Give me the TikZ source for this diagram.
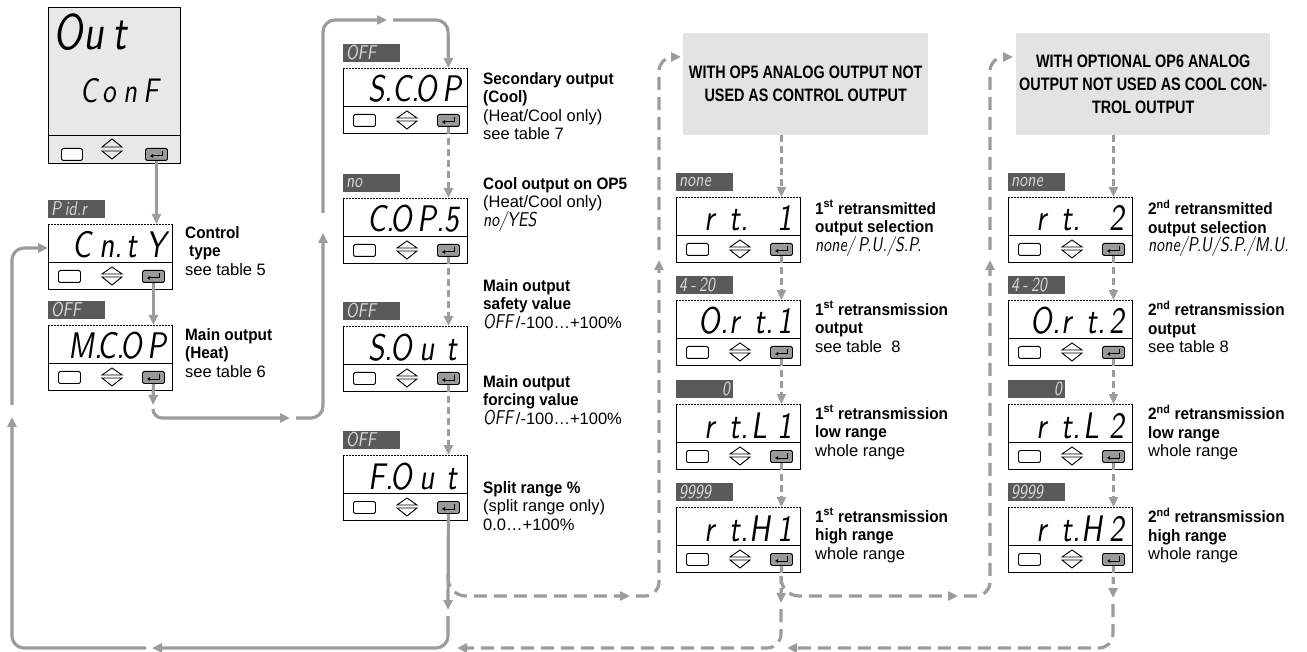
\documentclass[tikz,border=0pt]{standalone}
\usepackage{fontspec}
\setmainfont{Liberation Sans}[BoldFeatures={FakeStretch=0.93}]
\newfontfamily\hdrfont{Liberation Sans}[FakeStretch=0.8]
\newfontfamily\segfont{lmsans10-regular.otf}[FakeStretch=0.8, FakeSlant=0.15]
\usetikzlibrary{arrows.meta,calc}

\definecolor{linegray}{HTML}{9C9C9C}
\definecolor{badgegray}{HTML}{5A5A5A}
\definecolor{hdrgray}{HTML}{E3E3E3}
\definecolor{lcdgray}{HTML}{E8E8E8}
\definecolor{keygray}{HTML}{9A9A9A}

\newlength{\segw}
\setlength{\segw}{25pt}
\newcommand{\segdig}[1]{\makebox[\segw][c]{#1}}
\newcommand{\segdot}{\rlap{.}}
\newcommand{\segl}[1]{{\fontsize{20}{20}\segfont #1}}

\tikzset{
  flow/.style={draw=linegray, line width=3.2pt, rounded corners=12pt},
  dlink/.style={draw=linegray, line width=3.2pt, dash pattern=on 7pt off 4pt},
  dloop/.style={draw=linegray, line width=3.2pt, dash pattern=on 13pt off 7pt, rounded corners=14pt},
  panelbox/.style={anchor=north west, minimum width=124pt, minimum height=65pt, inner sep=0pt, fill=white},
  panelline/.style={draw=black, line width=0.9pt},
  keybox/.style={draw=black, line width=0.9pt, rounded corners=1.5pt, minimum width=22pt, minimum height=12pt, inner sep=0pt, fill=white},
  enterkey/.style={keybox, fill=keygray},
  badge/.style={anchor=south west, fill=badgegray, minimum width=57pt, minimum height=18pt, text width=51pt, inner xsep=3pt, inner ysep=0pt, text=white!85!black, font=\fontsize{20}{20}\segfont},
  segbig/.style={inner sep=0pt, font=\fontsize{37}{37}\segfont},
  lbl/.style={anchor=north west, align=left, inner sep=0pt, font=\fontsize{16.5}{18.5}\selectfont},
  hdr/.style={anchor=north west, fill=hdrgray, minimum height=102pt, align=center, inner sep=0pt, font=\hdrfont\bfseries\fontsize{18}{23}\selectfont}
}

\newcommand{\panel}[5]{%
  \node[panelbox] (#1) at (#2,#3) {};
  \draw[panelline] (#1.north west) -- (#1.south west) -- (#1.south east) -- (#1.north east);
  \draw[line width=0.8pt, dash pattern=on 1.5pt off 1.5pt] (#1.north west) -- (#1.north east);
  \draw[panelline] ($(#1.north west)+(0,38)$) -- ($(#1.north east)+(0,38)$);
  \node[segbig, anchor=base east] (#1-txt) at ($(#1.north east)+(-3,34)$) {#4};
  \node[keybox, anchor=north west] (#1-key) at ($(#1.north west)+(10,46)$) {};
  \node[enterkey, anchor=north west] (#1-ent) at ($(#1.north west)+(94,46)$) {};
  \draw[line width=0.9pt, -{Triangle[length=3pt,width=3.5pt]}] ($(#1-ent.north east)+(-5,3)$) -- ($(#1-ent.east)+(-5,1.5)$) -- ($(#1-ent.west)+(5,1.5)$);
  \draw[panelline] ($(#1.north west)+(54,50)$) -- ($(#1.north west)+(64,43)$) -- ($(#1.north west)+(74,50)$) -- cycle;
  \draw[panelline] ($(#1.north west)+(54,53)$) -- ($(#1.north west)+(64,61)$) -- ($(#1.north west)+(74,53)$) -- cycle;
  \node[badge] (#1-bdg) at ($(#1.north west)+(0,-6)$) {#5};
}

\begin{document}
\begin{tikzpicture}[x=1pt, y=-1pt, >={Triangle[length=10pt,width=9pt]}]
    \useasboundingbox (0,0) rectangle (1307,652);

    % start display
    \node[draw=black, line width=0.9pt, fill=lcdgray, anchor=north west, minimum width=132pt, minimum height=156pt, inner sep=0pt] (oc) at (48,7) {};
    \draw[panelline] ($(oc.north west)+(0,128)$) -- ($(oc.north east)+(0,128)$);
    \node[anchor=base west, inner sep=0pt, font=\fontsize{50}{50}\segfont] (oc-top) at (55,50) {\setlength{\segw}{26pt}\segdig{O}\segdig{u}\segdig{t}};
    \node[anchor=base west, inner sep=0pt, font=\fontsize{34}{34}\segfont] (oc-bot) at (78,103) {\setlength{\segw}{21pt}\segdig{C}\segdig{o}\segdig{n}\segdig{F}};
    \node[keybox, anchor=north west, minimum width=21pt] (oc-key) at (61,148) {};
    \node[enterkey, anchor=north west] (oc-ent) at (145,148) {};
    \draw[line width=0.9pt, -{Triangle[length=3pt,width=3.5pt]}] ($(oc-ent.north east)+(-5,3)$) -- ($(oc-ent.east)+(-5,1.5)$) -- ($(oc-ent.west)+(5,1.5)$);
    \draw[panelline] (102,147) -- (112,139) -- (122,147) -- cycle;
    \draw[panelline] (102,151) -- (112,159) -- (122,151) -- cycle;

    \panel{cnty}{48}{224}{\segdig{C}\segdig{n\segdot}\segdig{t}\segdig{Y}}{P\,id.r}
    \panel{ncop}{48}{325}{\segdig{M\segdot}\segdig{C\segdot}\segdig{O}\segdig{P}}{OFF}
    \panel{scop}{343}{68}{\segdig{S\segdot}\segdig{C\segdot}\segdig{O}\segdig{P}}{OFF}
    \panel{cops}{343}{198}{\segdig{C\segdot}\segdig{O}\segdig{P\segdot}\segdig{5}}{no}
    \panel{sout}{343}{326}{\segdig{S\segdot}\segdig{O}\segdig{u}\segdig{t}}{OFF}
    \panel{fout}{343}{455}{\segdig{F\segdot}\segdig{O}\segdig{u}\segdig{t}}{OFF}
    \panel{rt1}{676}{197}{\segdig{r}\segdig{t\segdot}\segdig{}\segdig{1}}{none}
    \panel{ort1}{676}{300}{\segdig{O\segdot}\segdig{r}\segdig{t\segdot}\segdig{1}}{4\,-\,20}
    \panel{rtl1}{676}{404}{\segdig{r}\segdig{t\segdot}\segdig{L}\segdig{1}}{\hfill 0}
    \panel{rth1}{676}{507}{\segdig{r}\segdig{t\segdot}\segdig{H}\segdig{1}}{9999}
    \panel{rt2}{1008}{197}{\segdig{r}\segdig{t\segdot}\segdig{}\segdig{2}}{none}
    \panel{ort2}{1008}{300}{\segdig{O\segdot}\segdig{r}\segdig{t\segdot}\segdig{2}}{4\,-\,20}
    \panel{rtl2}{1008}{404}{\segdig{r}\segdig{t\segdot}\segdig{L}\segdig{2}}{\hfill 0}
    \panel{rth2}{1008}{507}{\segdig{r}\segdig{t\segdot}\segdig{H}\segdig{2}}{9999}

    \node[hdr, minimum width=245pt] (hdr1) at (683,33) {WITH OP5 ANALOG OUTPUT NOT\\USED AS CONTROL OUTPUT};
    \node[hdr, minimum width=254pt] (hdr2) at (1016,33) {WITH OPTIONAL OP6 ANALOG\\OUTPUT NOT USED AS COOL CON-\\TROL OUTPUT};

    \node[lbl] (cnty-lbl) at (185,226) {\textbf{Control}\\\hspace*{4pt}\textbf{type}\\see table 5};
    \node[lbl] (ncop-lbl) at (185,328) {\textbf{Main output}\\\textbf{(Heat)}\\see table 6};
    \node[lbl] (scop-lbl) at (483,72) {\textbf{Secondary output}\\\textbf{(Cool)}\\(Heat/Cool only)\\see table 7};
    \node[lbl] (cops-lbl) at (483,177) {\textbf{Cool output on OP5}\\(Heat/Cool only)\\\segl{no/YES}};
    \node[lbl] (sout-lbl) at (483,279) {\textbf{Main output}\\\textbf{safety value}\\\segl{OFF}\,/-100…+100\%};
    \node[lbl] (fout-lbl) at (483,375) {\textbf{Main output}\\\textbf{forcing value}\\\segl{OFF}\,/-100…+100\%};
    \node[lbl] (split-lbl) at (483,481) {\textbf{Split range \%}\\(split range only)\\0.0…+100\%};
    \node[lbl] (rt1-lbl) at (815,200) {\textbf{1\textsuperscript{st} retransmitted}\\\textbf{output selection}\\\segl{none/\,P.U./S.P.}};
    \node[lbl] (ort1-lbl) at (815,301) {\textbf{1\textsuperscript{st} retransmission}\\\textbf{output}\\see table\ \ 8};
    \node[lbl] (rtl1-lbl) at (815,405) {\textbf{1\textsuperscript{st} retransmission}\\\textbf{low range}\\whole range};
    \node[lbl] (rth1-lbl) at (815,508) {\textbf{1\textsuperscript{st} retransmission}\\\textbf{high range}\\whole range};
    \node[lbl] (rt2-lbl) at (1148,200) {\textbf{2\textsuperscript{nd} retransmitted}\\\textbf{output selection}\\\segl{none/P.U/S.P./M.U.}};
    \node[lbl] (ort2-lbl) at (1148,301) {\textbf{2\textsuperscript{nd} retransmission}\\\textbf{output}\\see table 8};
    \node[lbl] (rtl2-lbl) at (1148,405) {\textbf{2\textsuperscript{nd} retransmission}\\\textbf{low range}\\whole range};
    \node[lbl] (rth2-lbl) at (1148,508) {\textbf{2\textsuperscript{nd} retransmission}\\\textbf{high range}\\whole range};

    % heat/cool loop
    \coordinate (ha) at (153,405);
    \coordinate (hb) at (153,409);
    \coordinate (hc) at (290,418);
    \coordinate (hd) at (296,418);
    \coordinate (he) at (323,418);
    \coordinate (hf) at (323,233);
    \coordinate (hg) at (323,213);
    \coordinate (hh) at (323,20);
    \coordinate (hi) at (387,20);
    \coordinate (hj) at (393,20);
    \coordinate (hk) at (448,20);
    % return loop
    \coordinate (ra) at (448,610);
    \coordinate (rb) at (448,616);
    \coordinate (rc) at (448,648);
    \coordinate (rd) at (152,648);
    \coordinate (re) at (146,648);
    \coordinate (rf) at (12,648);
    \coordinate (rg) at (12,417);
    \coordinate (rh) at (12,405);
    \coordinate (ri) at (12,248);
    % OP5 loop
    \coordinate (fa) at (448,574);
    \coordinate (fb) at (448,596);
    \coordinate (fc) at (630,596);
    \coordinate (fd) at (636,596);
    \coordinate (fe) at (659,596);
    \coordinate (ff) at (659,260);
    \coordinate (fg) at (659,250);
    \coordinate (fh) at (659,57);
    \coordinate (fi) at (681,57);
    \coordinate (ga) at (781,603);
    \coordinate (gb) at (781,609);
    \coordinate (gc) at (781,648);
    \coordinate (gd) at (457,648);
    % OP6 loop
    \coordinate (gk) at (781,576);
    \coordinate (gl) at (781,596);
    \coordinate (gm) at (958,596);
    \coordinate (gn) at (964,596);
    \coordinate (go) at (990,596);
    \coordinate (gp) at (990,260);
    \coordinate (gq) at (990,250);
    \coordinate (gr) at (990,57);
    \coordinate (gs) at (1013,57);
    \coordinate (ka) at (1113,598);
    \coordinate (kb) at (1113,604);
    \coordinate (kc) at (1113,648);
    \coordinate (kd) at (787,648);

    \draw[flow,->] (oc-ent.south) -- (oc-ent |- cnty.north);
    \draw[flow,->] (cnty-ent.south) -- (cnty-ent |- ncop.north);
    \draw[flow,->] (ncop-ent.south) -- (ha);
    \draw[flow,->,rounded corners=9pt] (hb) |- (hc);
    \draw[flow,->] (hd) -- (he) -- (hf);
    \draw[flow,->] (hg) -- (hh) -- (hi);
    \draw[flow,->] (hj) -- (hk) -- (scop-ent |- scop.north);

    \draw[dlink,->] (scop-ent.south) -- (scop-ent |- cops.north);
    \draw[dlink,->] (cops-ent.south) -- (cops-ent |- sout.north);
    \draw[dlink,->] (sout-ent.south) -- (sout-ent |- fout.north);

    \draw[flow,->] (fout-ent.south) -- (ra);
    \draw[flow,->] (rb) -- (rc) -- (rd);
    \draw[flow,->] (re) -- (rf) -- (rg);
    \draw[flow,->] (rh) -- (ri) -- (cnty.west |- ri);

    \draw[dloop,->,rounded corners=18pt] (fa) -- (fb) -- (fc);
    \draw[dloop,->] (fd) -- (fe) -- (ff);
    \draw[dloop,->] (fg) -- (fh) -- (fi);

    \draw[dlink,->] (hdr1.south -| rt1-ent) -- (rt1-ent |- rt1.north);
    \draw[dlink,->] (rt1-ent.south) -- (rt1-ent |- ort1.north);
    \draw[dlink,->] (ort1-ent.south) -- (ort1-ent |- rtl1.north);
    \draw[dlink,->] (rtl1-ent.south) -- (rtl1-ent |- rth1.north);
    \draw[dlink,->] (rth1-ent.south) -- (ga);
    \draw[dloop,->] (gb) -- (gc) -- (gd);

    \draw[dloop,->,rounded corners=18pt] (gk) -- (gl) -- (gm);
    \draw[dloop,->] (gn) -- (go) -- (gp);
    \draw[dloop,->] (gq) -- (gr) -- (gs);

    \draw[dlink,->] (hdr2.south -| rt2-ent) -- (rt2-ent |- rt2.north);
    \draw[dlink,->] (rt2-ent.south) -- (rt2-ent |- ort2.north);
    \draw[dlink,->] (ort2-ent.south) -- (ort2-ent |- rtl2.north);
    \draw[dlink,->] (rtl2-ent.south) -- (rtl2-ent |- rth2.north);
    \draw[dlink,->] (rth2-ent.south) -- (ka);
    \draw[dloop,->] (kb) -- (kc) -- (kd);
\end{tikzpicture}
\end{document}
